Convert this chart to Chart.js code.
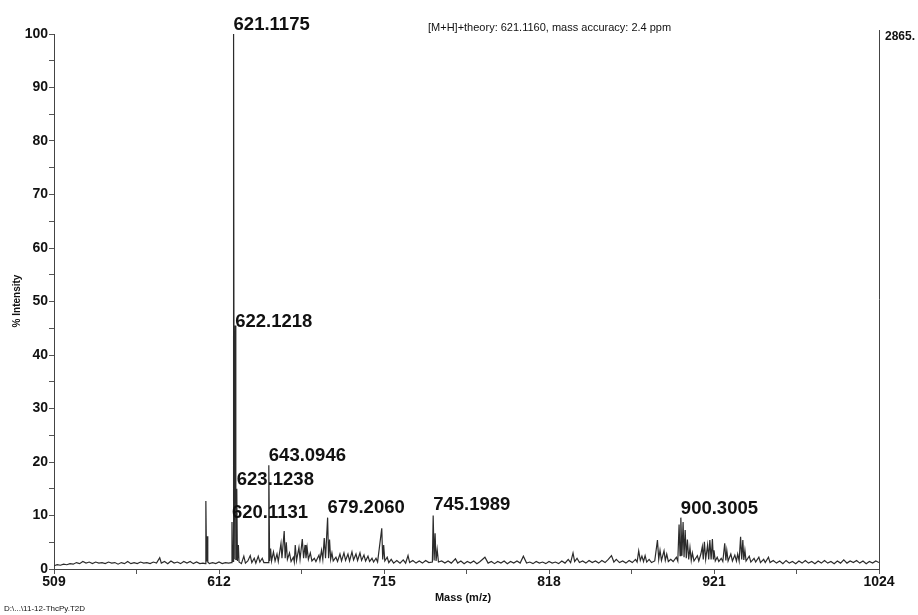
<!DOCTYPE html>
<html>
<head>
<meta charset="utf-8">
<script src="https://cdn.jsdelivr.net/npm/chart.js@4/dist/chart.umd.min.js"></script>
<style>
  body { margin: 0; background: #fff; }
  canvas { display: block; }
</style>
</head>
<body>
<canvas id="msChart" width="918" height="615"></canvas>
<script>
// spectrum trace, m/z vs % intensity
var mz = [509, 511, 513, 515, 517, 519, 521, 523, 525, 527, 529, 531, 533, 535, 537, 539, 541, 543, 545, 547,
  549, 551, 553, 555, 557, 559, 561, 563, 565, 567, 569, 571, 573, 575, 576, 578, 580, 582, 584, 586,
  588, 590, 592, 594, 596, 598, 600, 602, 603.4, 603.8, 604.2, 604.6, 605.0, 606, 608, 610, 612, 614, 616, 618,
  619.7, 620.1, 620.5, 620.8, 621.1, 621.5, 621.8, 622.1, 622.5, 622.8, 623.1, 623.5, 623.8, 624.1, 624.5, 626,
  627.5, 628.5, 630, 631.5, 632.5, 634, 635, 636.5, 637.5, 639, 640, 642.6, 643.1, 643.6, 644.2, 644.8, 646, 647,
  648.2, 649, 650.7, 651.3, 652.7, 653.3, 654, 654.7, 656, 657, 658.4, 659, 659.6, 660.4, 661.9, 662.6, 664, 664.8,
  665.7, 666.3, 667, 667.8, 669, 670, 671.5, 672.5, 674.4, 675, 676, 676.8, 677.7, 678.5, 679.8, 680.4, 681, 681.7,
  682.5, 683.3, 685, 686, 687.5, 688.5, 690, 691, 692.5, 693.5, 695, 696, 697.5, 698.5, 700, 701, 702.5, 703.5,
  705, 706, 707.5, 708.5, 710, 711, 713.6, 714.2, 714.8, 715.5, 717, 718, 719.5, 721, 723, 725, 727, 728.5,
  730, 731, 733, 735, 737, 739, 741, 743, 745.2, 745.7, 746.3, 746.9, 747.5, 748.2, 749, 751, 753, 755,
  757, 759.6, 761, 763, 765, 767, 769, 771, 773, 775, 778, 780, 782, 784, 786, 788, 790, 792, 794, 796,
  798, 800, 802, 804, 806, 808, 810, 812, 814, 816, 818, 820, 822, 824, 826, 828, 830, 831.5, 833, 834,
  835.5, 837, 839, 841, 843, 845, 847, 849, 851, 853, 855, 857, 858.5, 860, 862, 864, 866, 868, 870, 872,
  873, 874, 875, 876, 877, 878, 879, 880.5, 882, 884, 885.7, 886.5, 887.3, 888.2, 889.8, 890.6, 891.5, 892.5, 894, 895.5,
  897.5, 898.4, 899.2, 899.8, 900.3, 901, 901.7, 902.3, 903, 903.7, 904.4, 905.2, 906, 906.8, 907.5, 908.5, 910.6, 911.5,
  912.8, 913.7, 914.3, 915, 915.8, 917, 917.7, 918.4, 919.2, 920, 920.6, 921, 921.8, 923, 924, 925.5, 926.5,
  927.7, 928.4, 929, 929.8, 931.5, 932.5, 934, 935, 935.8, 936.7, 937.6, 938.3, 939, 939.6, 940.3, 941, 943, 944,
  946, 947, 949, 950, 952, 953, 955, 956, 958, 960, 962, 964, 966, 968, 970, 972, 974, 976, 978, 980,
  982, 984, 986, 988, 990, 992, 994, 996, 998, 1000, 1002, 1004, 1006, 1008, 1010, 1012, 1014, 1016, 1018, 1020,
  1022, 1024];
var intensity = [0.6, 0.8, 0.7, 0.9, 0.8, 1.0, 0.9, 1.2, 1.0, 1.4, 1.1, 1.3, 1.0, 1.3, 1.1, 1.2, 1.0, 1.3, 1.1, 1.2,
  0.9, 1.2, 1.0, 1.4, 1.0, 1.2, 1.0, 1.3, 1.1, 1.2, 1.0, 1.3, 1.1, 2.1, 1.1, 1.4, 1.0, 1.5, 1.1, 1.3,
  1.0, 1.4, 1.1, 1.4, 1.0, 1.3, 1.0, 1.1, 1.0, 12.7, 1.4, 6.1, 1.3, 1.0, 1.2, 1.0, 1.3, 1.0, 1.2, 1.1,
  1.2, 8.8, 1.4, 1.4, 100, 1.8, 1.8, 45.5, 1.8, 1.8, 15.0, 1.5, 1.5, 4.5, 1.3, 1.0,
  2.4, 1.1, 1.5, 2.5, 1.2, 2.0, 1.1, 2.4, 1.3, 2.0, 1.2, 1.2, 19.4, 1.5, 3.8, 1.5, 3.2, 1.5,
  2.8, 1.4, 4.8, 2.0, 7.1, 2.0, 5.0, 1.8, 3.0, 1.4, 2.2, 1.3, 4.5, 1.6, 4.0, 1.8, 5.6, 2.0,
  4.5, 2.0, 4.0, 1.8, 3.0, 1.5, 2.0, 1.4, 2.6, 1.6, 3.5, 1.8, 5.8, 2.0, 9.6, 2.0, 5.5, 1.8,
  3.0, 1.5, 2.2, 1.4, 2.8, 1.5, 3.0, 1.6, 2.8, 1.5, 3.2, 1.7, 2.8, 1.6, 3.0, 1.6, 2.6, 1.5,
  2.4, 1.4, 2.0, 1.3, 2.0, 1.3, 7.6, 1.8, 4.5, 1.5, 2.2, 1.2, 1.8, 1.1, 1.6, 1.1, 1.7, 1.1,
  2.5, 1.2, 1.6, 1.1, 1.5, 1.1, 1.6, 1.2, 1.3, 10.0, 1.6, 6.7, 1.5, 3.6, 1.3, 1.5, 1.1, 1.5,
  1.1, 1.9, 1.1, 1.5, 1.0, 1.4, 1.1, 1.5, 1.0, 1.4, 2.2, 1.1, 1.4, 1.0, 1.4, 1.1, 1.5, 1.0, 1.4, 1.1,
  1.5, 1.1, 2.4, 1.1, 1.3, 1.0, 1.4, 1.1, 1.3, 1.0, 1.4, 1.1, 1.3, 1.0, 1.5, 1.1, 1.8, 1.2, 3.0, 1.4,
  2.0, 1.2, 1.5, 1.1, 1.6, 1.2, 1.5, 1.1, 1.6, 1.2, 1.8, 2.5, 1.3, 1.8, 1.2, 1.5, 1.1, 1.6, 1.2, 1.8,
  1.3, 3.4, 1.6, 2.4, 1.4, 2.5, 1.3, 1.8, 1.2, 1.5, 5.4, 1.8, 3.5, 1.6, 3.4, 1.6, 2.8, 1.4, 1.8, 1.4,
  2.2, 1.5, 8.3, 2.5, 9.6, 2.5, 8.8, 2.2, 7.3, 2.0, 5.5, 1.8, 4.0, 1.6, 3.0, 1.5, 2.5, 1.5,
  2.8, 4.2, 1.8, 5.1, 1.8, 4.5, 1.8, 5.4, 1.8, 5.6, 1.8, 3.5, 1.5, 2.2, 1.4, 2.0, 1.4,
  4.8, 1.6, 3.5, 1.5, 2.8, 1.5, 2.6, 1.5, 2.8, 1.5, 6.0, 1.8, 5.4, 1.7, 3.5, 1.5, 2.4, 1.3,
  2.0, 1.3, 2.2, 1.2, 1.8, 1.2, 2.2, 1.2, 1.6, 1.1, 1.5, 1.0, 1.6, 1.1, 1.4, 1.0, 1.5, 1.1, 1.6, 1.1,
  1.4, 1.0, 1.5, 1.1, 1.6, 1.1, 1.4, 1.0, 1.5, 1.1, 1.7, 1.1, 1.5, 1.2, 1.6, 1.1, 1.5, 1.0, 1.4, 1.1,
  1.5, 1.2];

// labelled peaks: text, anchor m/z, label baseline (in % intensity)
var peakLabels = ['621.1175', '622.1218', '643.0946', '623.1238', '620.1131', '679.2060', '745.1989', '900.3005'];
var peakMz = [621.1, 622.1, 643.1, 623.1, 620.1, 679.8, 745.7, 900.3];
var labelY = [100.7, 45.2, 20.2, 15.7, 9.5, 10.5, 11.0, 10.3];

var xTickLabels = [509, 612, 715, 818, 921, 1024];
var xTicks = [509, 560.5, 612, 663.5, 715, 766.5, 818, 869.5, 921, 972.5, 1024];
var yTicks = [0, 5, 10, 15, 20, 25, 30, 35, 40, 45, 50, 55, 60, 65, 70, 75, 80, 85, 90, 95, 100];

var FONT = '"Liberation Sans", Arial, sans-serif';

var extras = {
  id: 'extras',
  afterDraw: function(chart) {
    var c = chart.ctx;
    var xs = chart.scales.x, ys = chart.scales.y;
    c.save();
    c.fillStyle = '#111';
    c.textBaseline = 'alphabetic';

    // peak labels
    c.font = 'bold 18.5px ' + FONT;
    c.textAlign = 'left';
    peakLabels.forEach(function(t, i) {
      c.fillText(t, xs.getPixelForValue(peakMz[i]), ys.getPixelForValue(labelY[i]));
    });

    // right border line
    var xr = xs.getPixelForValue(1024);
    c.strokeStyle = '#444';
    c.lineWidth = 1;
    c.beginPath();
    c.moveTo(xr + 0.5, chart.chartArea.top - 4);
    c.lineTo(xr + 0.5, chart.chartArea.bottom);
    c.stroke();

    c.font = 'bold 12px ' + FONT;
    c.fillText('2865.', xr + 6, 40);

    c.font = '11px ' + FONT;
    c.fillText('[M+H]+theory: 621.1160, mass accuracy: 2.4 ppm', 428, 31);

    c.font = 'bold 11px ' + FONT;
    c.textAlign = 'center';
    c.fillText('Mass (m/z)', 463, 601);

    c.font = '8px ' + FONT;
    c.textAlign = 'left';
    c.fillText('D:\\...\\11-12-ThcPy.T2D', 4, 611);

    c.translate(20, 301);
    c.rotate(-Math.PI / 2);
    c.font = 'bold 10px ' + FONT;
    c.textAlign = 'center';
    c.fillText('% Intensity', 0, 0);
    c.restore();
  }
};

var ctx = document.getElementById('msChart').getContext('2d');
var msChart = new Chart(ctx, {
  type: 'line',
  data: {
    datasets: [{
      label: 'spectrum',
      data: mz.map(function(m, i) { return { x: m, y: intensity[i] }; }),
      borderColor: '#2b2b2b',
      borderWidth: 1.2,
      pointRadius: 0,
      tension: 0,
      fill: false
    }]
  },
  options: {
    responsive: false,
    animation: false,
    layout: { padding: { top: 34, right: 39, left: 0, bottom: 0 } },
    plugins: {
      legend: { display: false },
      tooltip: { enabled: false }
    },
    scales: {
      x: {
        type: 'linear',
        min: 509,
        max: 1024,
        afterFit: function(s) { s.height = 46; },
        afterBuildTicks: function(s) { s.ticks = xTicks.map(function(v) { return { value: v }; }); },
        grid: { drawOnChartArea: false, tickLength: 5, color: '#555' },
        border: { color: '#444', width: 1 },
        ticks: {
          autoSkip: false,
          maxRotation: 0,
          padding: 0,
          color: '#111',
          font: { family: FONT, size: 14, weight: 'bold' },
          callback: function(v) { return xTickLabels.indexOf(v) >= 0 ? String(v) : ''; }
        }
      },
      y: {
        min: 0,
        max: 100,
        afterFit: function(s) { s.width = 54; },
        afterBuildTicks: function(s) { s.ticks = yTicks.map(function(v) { return { value: v }; }); },
        grid: { drawOnChartArea: false, tickLength: 5, color: '#555' },
        border: { color: '#444', width: 1 },
        ticks: {
          autoSkip: false,
          padding: 1,
          color: '#111',
          font: { family: FONT, size: 14, weight: 'bold' },
          callback: function(v) { return v % 10 === 0 ? String(v) : ''; }
        }
      }
    }
  },
  plugins: [extras]
});
</script>
</body>
</html>
